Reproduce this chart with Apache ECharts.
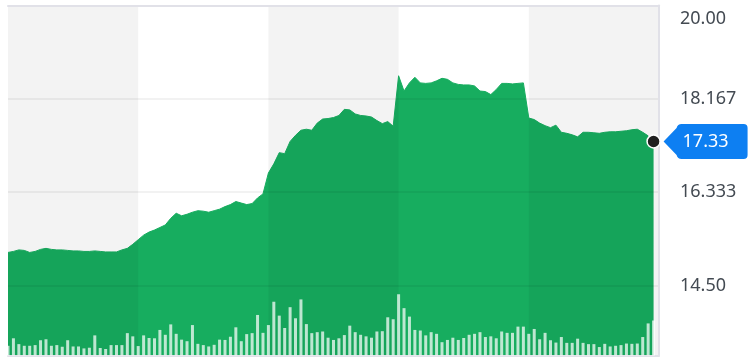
<!DOCTYPE html>
<html><head><meta charset="utf-8">
<script src="https://cdn.jsdelivr.net/npm/echarts@6/dist/echarts.min.js"></script>
<style>html,body{margin:0;padding:0;background:#fff;}#chart{width:750px;height:360px;}</style>
</head><body><div id="chart"></div>
<script>
// ---- data ----
const categories = Array.from({length: 121}, (_, i) => 'D' + (i + 1));
const prices = [
  15.15, 15.17, 15.20, 15.19, 15.15, 15.17, 15.21, 15.23, 15.21, 15.20,
  15.20, 15.19, 15.18, 15.18, 15.17, 15.17, 15.18, 15.17, 15.16, 15.16,
  15.16, 15.20, 15.23, 15.31, 15.40, 15.49, 15.55, 15.59, 15.64, 15.69,
  15.82, 15.92, 15.87, 15.90, 15.94, 15.97, 15.96, 15.94, 15.97, 16.00,
  16.05, 16.09, 16.15, 16.12, 16.09, 16.11, 16.22, 16.30, 16.71, 16.89,
  17.11, 17.09, 17.33, 17.45, 17.55, 17.57, 17.55, 17.69, 17.77, 17.78,
  17.80, 17.84, 17.96, 17.95, 17.87, 17.84, 17.83, 17.81, 17.74, 17.68,
  17.72, 17.63, 18.62, 18.32, 18.48, 18.59, 18.48, 18.47, 18.48, 18.52,
  18.57, 18.55, 18.48, 18.45, 18.44, 18.44, 18.42, 18.32, 18.31, 18.25,
  18.35, 18.47, 18.47, 18.46, 18.47, 18.48, 17.79, 17.76, 17.69, 17.64,
  17.60, 17.65, 17.51, 17.49, 17.46, 17.42, 17.51, 17.51, 17.50, 17.49,
  17.51, 17.52, 17.52, 17.53, 17.54, 17.56, 17.57, 17.51, 17.44, 17.33
];
const volumes = [
  1.00, 1.77, 1.17, 1.00, 1.00, 1.07, 1.57, 1.67, 1.00, 1.07,
  0.90, 1.57, 0.93, 0.93, 0.73, 0.80, 2.07, 0.77, 0.67, 1.07,
  1.07, 1.07, 2.30, 1.97, 0.97, 2.07, 1.80, 1.77, 2.63, 2.13,
  3.20, 2.23, 1.63, 1.47, 3.13, 1.20, 1.07, 0.93, 1.10, 1.63,
  1.60, 1.93, 2.90, 1.47, 2.20, 2.30, 4.17, 2.33, 3.13, 5.53,
  4.10, 2.83, 4.97, 3.83, 5.77, 3.23, 2.30, 2.40, 2.47, 1.83,
  1.60, 1.77, 2.10, 3.07, 2.40, 2.13, 1.97, 1.83, 2.47, 2.50,
  3.93, 3.73, 6.30, 4.87, 4.00, 2.63, 2.57, 2.07, 2.40, 2.23,
  1.37, 1.60, 1.83, 1.60, 1.80, 2.13, 2.23, 2.40, 1.90, 1.97,
  1.77, 2.47, 2.33, 2.33, 2.97, 2.97, 2.23, 2.73, 1.67, 2.33,
  1.57, 1.33, 1.90, 1.30, 1.30, 1.73, 1.30, 1.17, 1.17, 0.87,
  1.20, 0.93, 1.00, 1.07, 1.23, 1.20, 1.23, 1.90, 3.30, 3.60
];
const yTickValues = [14.5, 16.333, 18.167, 20];
const yTickLabels = ['14.50', '16.333', '18.167', '20.00'];
const shadedBands = [[0, 24], [48, 72], [96, 120]];
const yMin = 13.126, yMax = 20;
const volMax = 36;

// ---- chart ----
const FONT = 'Noto Sans';
const GREEN = '#17ad5f';
const BORDER = '#e1e1e8';
const LABEL = '#434a52';
const lastIndex = prices.length - 1;
const lastPrice = prices[lastIndex];

const chart = echarts.init(document.getElementById('chart'), null, {renderer: 'canvas'});
chart.setOption({
  animation: false,
  backgroundColor: '#ffffff',
  grid: {left: 8, right: 91, top: 5.5, bottom: 4.5},
  xAxis: [
    {type: 'category', data: categories, boundaryGap: false, z: 4,
     axisLine: {show: true, onZero: false, lineStyle: {color: BORDER, width: 2}},
     axisTick: {show: false}, axisLabel: {show: false}, splitLine: {show: false}},
    {type: 'category', data: categories, boundaryGap: false, position: 'top', z: 4,
     axisLine: {show: true, onZero: false, lineStyle: {color: BORDER, width: 2}},
     axisTick: {show: false}, axisLabel: {show: false}, splitLine: {show: false}}
  ],
  yAxis: [
    {type: 'value', position: 'right', min: yMin, max: yMax, z: 4,
     axisLine: {show: true, lineStyle: {color: BORDER, width: 2}},
     axisTick: {show: false, customValues: yTickValues},
     splitLine: {show: true, lineStyle: {color: 'rgba(0,0,0,0.07)', width: 1.5}},
     axisLabel: {
       customValues: yTickValues, margin: 21, color: LABEL, fontSize: 18, fontFamily: FONT,
       formatter: function (v) {
         let k = yTickValues.findIndex(t => Math.abs(t - v) < 1e-6);
         const s = k >= 0 ? yTickLabels[k] : '';
         return v >= yMax - 1e-6 ? '{top|' + s + '}' : s;
       },
       rich: {top: {padding: [27, 0, 0, 0], color: LABEL, fontSize: 18, fontFamily: FONT}}
     }},
    {type: 'value', min: 0, max: volMax, show: false}
  ],
  series: [
    {
      type: 'line', data: prices, symbol: 'none', z: 2,
      lineStyle: {color: GREEN, width: 1},
      areaStyle: {color: GREEN, opacity: 1, origin: 'start'},
      markArea: {
        z: 3, silent: true,
        itemStyle: {color: 'rgba(0,0,0,0.047)'},
        data: shadedBands.map(b => [{xAxis: categories[b[0]]}, {xAxis: categories[b[1]]}])
      },
      markPoint: {
        z: 10, silent: true,
        data: [
          {coord: [lastIndex, lastPrice], symbol: 'circle', symbolSize: 13,
           itemStyle: {color: '#1f1f1f', borderColor: '#ffffff', borderWidth: 1.5},
           label: {show: false}},
          {coord: [lastIndex, lastPrice],
           symbol: 'path://M0,17.5 L13,4 Q14,0 18,0 L80,0 Q84,0 84,4 L84,31 Q84,35 80,35 L18,35 Q14,35 13,31 Z',
           symbolSize: [84, 35], symbolOffset: [52, 0],
           itemStyle: {color: '#0d7ff2'},
           label: {show: true, position: 'inside', offset: [0, 0], color: '#ffffff', fontSize: 18,
                   fontFamily: FONT, formatter: lastPrice.toFixed(2)}}
        ]
      }
    },
    {
      type: 'bar', data: volumes, yAxisIndex: 1, barWidth: 3, z: 5,
      itemStyle: {color: 'rgba(255,255,255,0.72)'}
    }
  ]
});
</script>
</body></html>
